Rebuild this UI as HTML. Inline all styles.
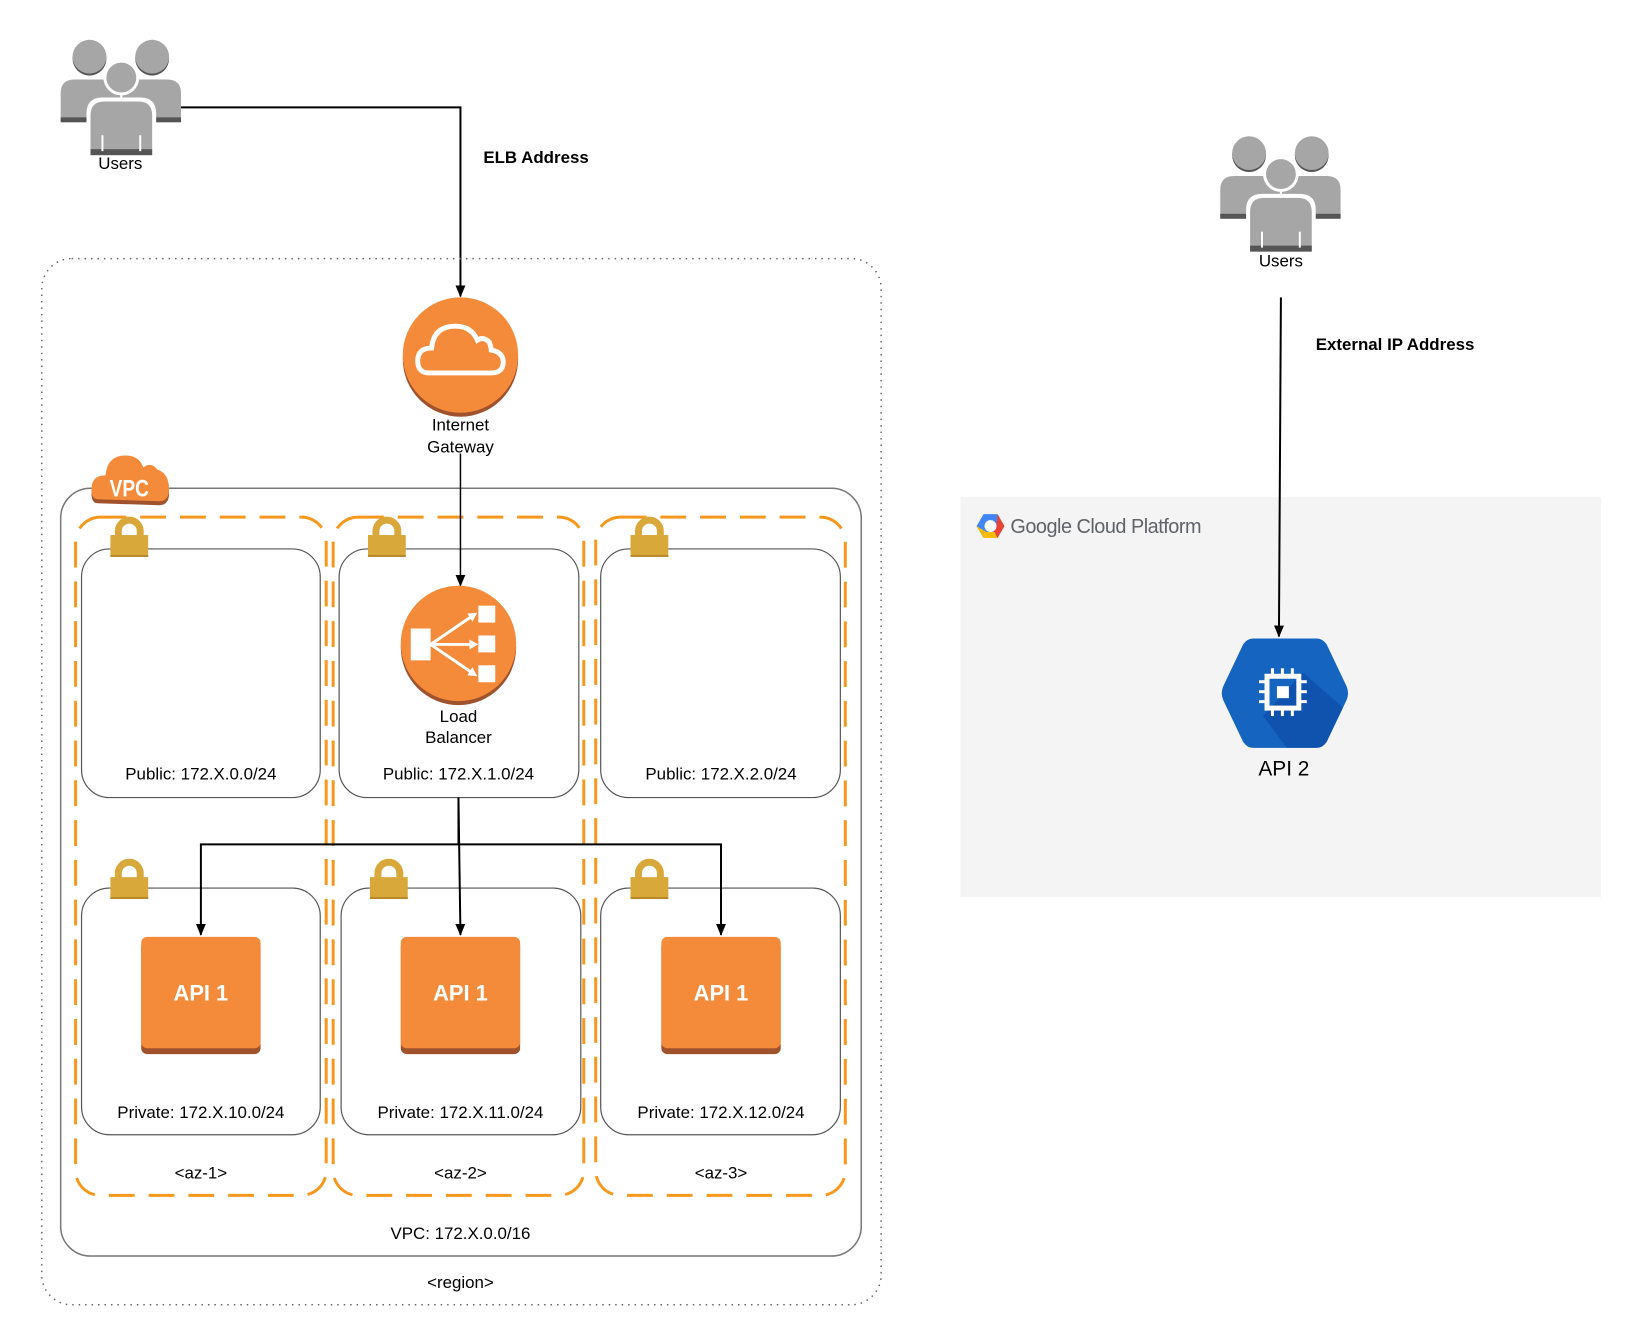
<!DOCTYPE html>
<html><head><meta charset="utf-8"><style>
html,body{margin:0;padding:0;background:#fff;}
svg{display:block;font-family:"Liberation Sans",sans-serif;}
</style></head><body>
<svg width="1641" height="1337" viewBox="0 0 1641 1337" xmlns="http://www.w3.org/2000/svg">
<defs>
<marker id="ar" markerWidth="12" markerHeight="12" refX="11" refY="6" orient="auto" markerUnits="userSpaceOnUse">
<path d="M0,1 L12,6 L0,11 Z" fill="#000"/>
</marker>
<clipPath id="hexclip"><path d="M1260,642 H1324 Q1330,642 1334,648 L1354,690 Q1357,697 1354,704 L1334,746 Q1330,752 1324,752 H1260 Q1254,752 1250,746 L1230,704 Q1227,697 1230,690 L1250,648 Q1254,642 1260,642 Z"/></clipPath>
<g id="users">
 <circle cx="29" cy="19" r="17" fill="#555"/><circle cx="29" cy="17" r="17" fill="#a6a6a6"/>
 <circle cx="92" cy="19" r="17" fill="#555"/><circle cx="92" cy="17" r="17" fill="#a6a6a6"/>
 <path d="M0,82 V54 Q0,40 14,40 H46 Q60,40 60,54 V82 Z" fill="#a6a6a6"/>
 <path d="M61,82 V54 Q61,40 75,40 H107 Q121,40 121,54 V82 Z" fill="#a6a6a6"/>
 <rect x="0" y="78" width="121" height="5" fill="#555"/>
 <circle cx="61" cy="38" r="18" fill="#fff"/>
 <circle cx="61" cy="38" r="15" fill="#a6a6a6"/>
 <path d="M26,116 V74 Q26,58 42,58 H80 Q96,58 96,74 V116 Z" fill="#fff"/>
 <path d="M30,116 V76 Q30,62 44,62 H78 Q92,62 92,76 V116 Z" fill="#a6a6a6"/>
 <rect x="30" y="110" width="62" height="6" fill="#555"/>
 <line x1="61" y1="53" x2="61" y2="62" stroke="#fff" stroke-width="2"/>
 <line x1="42" y1="96" x2="42" y2="112" stroke="#fff" stroke-width="2"/>
 <line x1="80" y1="96" x2="80" y2="112" stroke="#fff" stroke-width="2"/>
</g>
<g id="lock">
 <path d="M8,20 V14 A11,11 0 0 1 30,14 V20" fill="none" stroke="#d9a83a" stroke-width="7"/>
 <rect x="0" y="18" width="38" height="22" fill="#d9a83a"/>
 <rect x="0" y="38" width="38" height="2" fill="#b8892a"/>
</g>
<g id="api1">
 <rect x="0" y="4" width="120" height="114" rx="6" fill="#a0522d"/>
 <rect x="0" y="0" width="120" height="112" rx="6" fill="#f38b3a"/>
 <text x="60" y="64" text-anchor="middle" font-size="22" font-weight="bold" fill="#fff">API 1</text>
</g>
</defs>
<g transform="scale(0.9945)">
<!-- Users 1 -->
<use href="#users" x="61" y="40"/>
<text x="121" y="170" text-anchor="middle" font-size="17">Users</text>
<polyline points="182,108 463,108 463,298" fill="none" stroke="#000" stroke-width="2" marker-end="url(#ar)"/>
<text x="486" y="164" font-size="17" font-weight="bold">ELB Address</text>

<!-- region -->
<rect x="42" y="260" width="844" height="1052" rx="30" fill="none" stroke="#666" stroke-width="1.5" stroke-dasharray="1.5,5"/>
<text x="463" y="1295" text-anchor="middle" font-size="17">&lt;region&gt;</text>

<!-- VPC -->
<rect x="61" y="491" width="805" height="772" rx="30" fill="none" stroke="#777" stroke-width="1.5"/>
<text x="463" y="1246" text-anchor="middle" font-size="17">VPC: 172.X.0.0/16</text>

<!-- AZ boxes -->
<g fill="none" stroke="#f7981d" stroke-width="3" stroke-dasharray="26,14">
<rect x="76" y="520" width="252" height="682" rx="25"/>
<rect x="335" y="520" width="252" height="682" rx="25"/>
<rect x="599" y="520" width="251" height="682" rx="25"/>
</g>
<g font-size="17" text-anchor="middle">
<text x="202" y="1185">&lt;az-1&gt;</text>
<text x="463" y="1185">&lt;az-2&gt;</text>
<text x="725" y="1185">&lt;az-3&gt;</text>
</g>

<!-- subnets -->
<g fill="#fff" stroke="#555" stroke-width="1.2">
<rect x="82" y="552" width="240" height="250" rx="28"/>
<rect x="341" y="552" width="241" height="250" rx="28"/>
<rect x="604" y="552" width="241" height="250" rx="28"/>
<rect x="82" y="893" width="240" height="248" rx="28"/>
<rect x="343" y="893" width="241" height="248" rx="28"/>
<rect x="604" y="893" width="241" height="248" rx="28"/>
</g>
<g font-size="17" text-anchor="middle">
<text x="202" y="784">Public: 172.X.0.0/24</text>
<text x="461" y="784">Public: 172.X.1.0/24</text>
<text x="725" y="784">Public: 172.X.2.0/24</text>
<text x="202" y="1124">Private: 172.X.10.0/24</text>
<text x="463" y="1124">Private: 172.X.11.0/24</text>
<text x="725" y="1124">Private: 172.X.12.0/24</text>
</g>
<use href="#lock" x="111" y="520"/>
<use href="#lock" x="370" y="520"/>
<use href="#lock" x="634" y="520"/>
<use href="#lock" x="111" y="864"/>
<use href="#lock" x="372" y="864"/>
<use href="#lock" x="634" y="864"/>

<!-- VPC badge -->
<g>
<path d="M98,506 Q92,506 92,496 Q92,482 106,482 Q108,464 126,464 Q140,464 144,476 Q152,470 158,478 Q170,482 170,496 Q170,508 160,508 Z" fill="#a0522d"/>
<path d="M98,502 Q92,502 92,492 Q92,478 106,478 Q108,458 126,458 Q140,458 144,470 Q152,464 158,472 Q170,476 170,492 Q170,504 160,504 Z" fill="#f38b3a"/>
<text x="130" y="499" text-anchor="middle" font-size="24" font-weight="bold" fill="#fff" transform="translate(130 0) scale(0.8 1) translate(-130 0)">VPC</text>
</g>

<!-- IGW -->
<circle cx="463" cy="361" r="58" fill="#a0522d"/>
<circle cx="463" cy="357" r="58" fill="#f38b3a"/>
<path d="M432,375 Q420,375 420,363 Q420,350 434,350 Q436,328 458,328 Q474,328 480,342 Q486,338 492,344 Q494,350 494,352 Q506,354 506,364 Q506,375 494,375 Z" fill="none" stroke="#fff" stroke-width="5"/>
<text x="463" y="433" text-anchor="middle" font-size="17">Internet</text>
<text x="463" y="455" text-anchor="middle" font-size="17">Gateway</text>
<line x1="463" y1="456" x2="463" y2="589" stroke="#000" stroke-width="1.5" marker-end="url(#ar)"/>

<!-- LB -->
<circle cx="461" cy="651" r="58" fill="#a0522d"/>
<circle cx="461" cy="647" r="58" fill="#f38b3a"/>
<g fill="#fff"><rect x="413" y="632" width="20" height="32"/>
<rect x="481" y="609" width="17" height="17"/><rect x="481" y="639" width="17" height="17"/><rect x="481" y="669" width="17" height="17"/></g>
<g stroke="#fff" stroke-width="3" fill="none"><line x1="433" y1="648" x2="474" y2="620"/><line x1="433" y1="648" x2="474" y2="648"/><line x1="433" y1="648" x2="474" y2="676"/></g>
<g fill="#fff"><path d="M480,616 L470,617 L475,625Z"/><path d="M481,648 L472,643 L472,653Z"/><path d="M480,680 L470,679 L475,671Z"/></g>
<text x="461" y="726" text-anchor="middle" font-size="17">Load</text>
<text x="461" y="747" text-anchor="middle" font-size="17">Balancer</text>

<!-- LB connectors -->
<g fill="none" stroke="#000" stroke-width="2">
<polyline points="461,802 461,849 202,849 202,940" marker-end="url(#ar)"/>
<polyline points="461,849 725,849 725,940" marker-end="url(#ar)"/>
<polyline points="461,802 463,940" marker-end="url(#ar)"/>
</g>
<use href="#api1" x="142" y="942"/>
<use href="#api1" x="403" y="942"/>
<use href="#api1" x="665" y="942"/>

<!-- GCP -->
<rect x="966" y="500" width="644" height="402" fill="#f4f4f4"/>
<g transform="translate(996 529)">
<path d="M-7,-12 H7 L14,0 L7,12 H-7 L-14,0 Z" fill="#4285f4"/>
<path d="M7,-12 L14,0 L7,12 H0 L6,0 Z" fill="#ea4335"/>
<path d="M-14,0 L-7,12 H7 L4,6 H-4 Z" fill="#fbbc05"/>
<circle cx="0" cy="0" r="6" fill="#fff"/>
</g>
<text x="1016" y="536" font-size="20" fill="#5f6368" letter-spacing="-0.5">Google Cloud Platform</text>

<!-- Users 2 -->
<use href="#users" x="1227" y="137"/>
<text x="1288" y="268" text-anchor="middle" font-size="17">Users</text>
<polyline points="1288,299 1286,640" fill="none" stroke="#000" stroke-width="2" marker-end="url(#ar)"/>
<text x="1323" y="352" font-size="17" font-weight="bold">External IP Address</text>

<!-- API 2 hexagon -->
<path d="M1260,642 H1324 Q1330,642 1334,648 L1354,690 Q1357,697 1354,704 L1334,746 Q1330,752 1324,752 H1260 Q1254,752 1250,746 L1230,704 Q1227,697 1230,690 L1250,648 Q1254,642 1260,642 Z" fill="#1565c0"/>
<path d="M1310,676 L1360,720 L1340,760 H1300 L1270,720 Z" fill="#0d47a1" opacity="0.6" clip-path="url(#hexclip)"/>
<g fill="#fff">
<rect x="1274" y="680" width="32" height="32" fill="none" stroke="#fff" stroke-width="5"/>
<rect x="1284" y="690" width="12" height="12"/>
<rect x="1278" y="672" width="3" height="8"/><rect x="1288" y="672" width="3" height="8"/><rect x="1298" y="672" width="3" height="8"/>
<rect x="1278" y="712" width="3" height="8"/><rect x="1288" y="712" width="3" height="8"/><rect x="1298" y="712" width="3" height="8"/>
<rect x="1266" y="684" width="8" height="3"/><rect x="1266" y="694" width="8" height="3"/><rect x="1266" y="704" width="8" height="3"/>
<rect x="1306" y="684" width="8" height="3"/><rect x="1306" y="694" width="8" height="3"/><rect x="1306" y="704" width="8" height="3"/>
</g>
<text x="1291" y="780" text-anchor="middle" font-size="21">API 2</text>
</g>
</svg>
</body></html>
